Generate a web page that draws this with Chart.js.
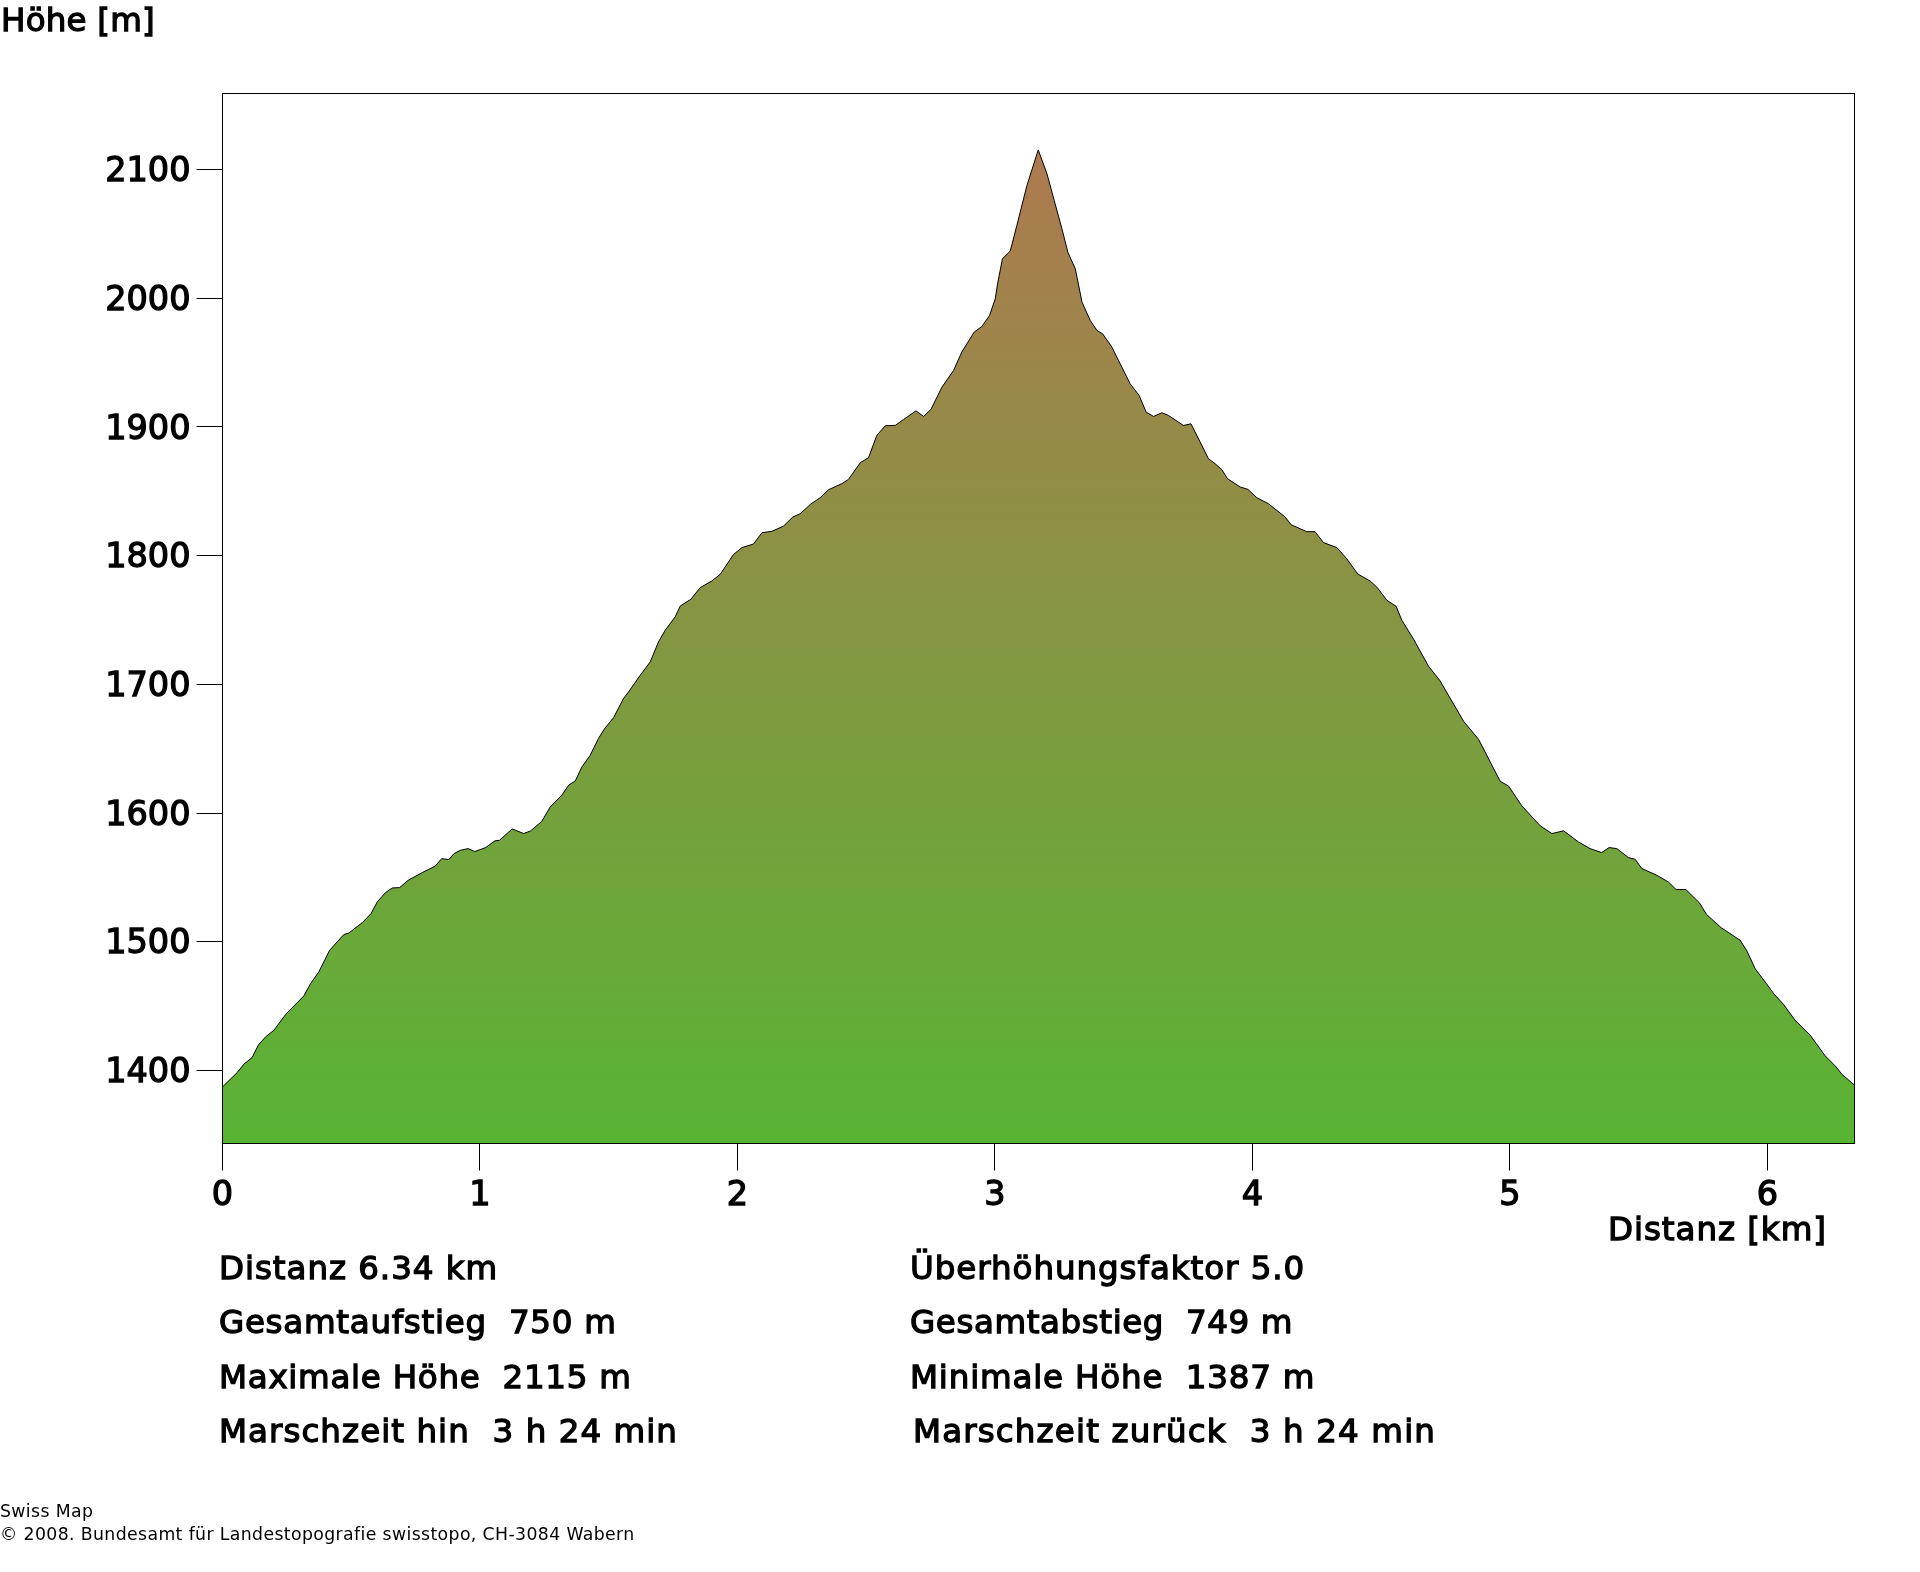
<!DOCTYPE html>
<html lang="de"><head><meta charset="utf-8">
<script src="https://cdn.jsdelivr.net/npm/chart.js@4"></script>
<style>
html,body{margin:0;padding:0;background:#fff;width:1920px;height:1572px;overflow:hidden}
canvas{position:absolute;left:0;top:0}
.t{position:absolute;white-space:pre;font-family:"DejaVu Sans";font-size:32.5px;line-height:40px;color:#000;-webkit-text-stroke:1.3px #000;letter-spacing:.95px}
.f{position:absolute;white-space:pre;font-family:"DejaVu Sans";font-size:17.3px;line-height:20px;color:#000;letter-spacing:.38px}
</style></head><body>
<canvas id="c" width="1920" height="1572"></canvas>
<div class="t" style="left:1px;top:0;letter-spacing:.2px">Höhe [m]</div>
<div class="t" style="left:1620px;top:1209px;left:1608px">Distanz [km]</div>
<div class="t" style="left:219px;top:1248px">Distanz 6.34 km</div>
<div class="t" style="left:219px;top:1302px;letter-spacing:.72px">Gesamtaufstieg  750 m</div>
<div class="t" style="left:219px;top:1357px;letter-spacing:.72px">Maximale Höhe  2115 m</div>
<div class="t" style="left:219px;top:1411px;letter-spacing:1.05px">Marschzeit hin  3 h 24 min</div>
<div class="t" style="left:910px;top:1248px">Überhöhungsfaktor 5.0</div>
<div class="t" style="left:910px;top:1302px;letter-spacing:.6px">Gesamtabstieg  749 m</div>
<div class="t" style="left:910px;top:1357px;letter-spacing:.83px">Minimale Höhe  1387 m</div>
<div class="t" style="left:913px;top:1411px;letter-spacing:1.15px">Marschzeit zurück  3 h 24 min</div>
<div class="f" style="left:0;top:1501px">Swiss Map</div>
<div class="f" style="left:0;top:1524px">© 2008. Bundesamt für Landestopografie swisstopo, CH-3084 Wabern</div>
<script>
const distanceKm = [0,0.057,0.083,0.115,0.139,0.167,0.2,0.245,0.316,0.342,0.374,0.416,0.471,0.491,0.543,0.577,0.601,0.633,0.659,0.688,0.721,0.776,0.827,0.851,0.879,0.899,0.924,0.954,0.98,1.022,1.058,1.076,1.125,1.17,1.196,1.239,
1.273,1.318,1.344,1.37,1.396,1.428,1.46,1.482,1.519,1.557,1.577,1.622,1.661,1.693,1.719,1.758,1.778,1.819,1.855,1.9,1.933,
1.985,2.017,2.062,2.095,2.134,2.179,2.215,2.244,2.283,2.321,2.354,2.405,2.431,2.477,2.509,2.541,2.574,2.613,2.645,2.693,2.723,2.751,
2.794,2.839,2.871,2.919,2.949,2.979,3.001,3.01,3.029,3.059,3.085,3.124,3.168,3.202,3.23,3.26,3.283,3.312,3.338,3.37,3.396,3.418,3.454,3.525,3.56,3.587,3.616,3.648,3.674,3.732,3.761,
3.797,3.829,3.855,3.881,3.903,3.952,3.982,4.017,4.062,4.127,4.15,4.211,4.243,4.276,4.328,4.366,4.409,4.457,4.485,4.522,4.558,
4.58,4.626,4.684,4.727,4.82,4.878,4.962,4.995,5.046,5.118,5.163,5.208,5.266,5.311,5.356,5.385,5.415,5.46,5.486,5.512,5.57,5.615,5.645,5.683,5.736,5.764,5.82,5.894,5.92,5.952,6.01,6.026,6.062,6.107,6.166,6.224,6.263,6.289,6.338];
const elevationM = [1387.3,1398.4,1404.9,1410.1,1419.7,1426.1,1431.3,1443.5,1458,1467.5,1476.6,1493.4,1505.6,1506.9,1514.9,1521.9,1531,1538.2,1541.8,1542.1,1547.8,1553.8,1558.9,1564.6,1563.9,1568.5,1571.1,1572.4,1570.1,1573.2,1578.4,1578.9,1587.7,1584.1,1586.1,1593.3,
1604.8,1613.9,1621.6,1625,1635.9,1644.9,1657.9,1665.1,1674.2,1688.9,1694.1,1707,1717.4,1732.9,1742,1752.4,1760.9,1766.1,1775.1,1780.3,1785.5,
1801,1806.2,1809,1817.8,1818.9,1823,1830,1832.6,1839.8,1845,1851.2,1855.9,1859.2,1872.2,1876.1,1893.4,1900.9,1901.2,1905.8,1912.4,1908.2,1913.5,
1930.9,1943.8,1958.1,1973.6,1978,1986.6,1999.5,2011.1,2030.6,2036.5,2056.5,2087.5,2115.2,2096.6,2075.9,2053.9,2035.7,2022.8,1996.9,1982.7,1974.9,1972.3,1962,1933.5,1924.4,1911.5,1908.1,1911,1908.9,1901.1,1902.4,
1888.2,1875.3,1871.4,1866.8,1859.8,1853.3,1851.5,1845,1840.3,1830,1824,1818.6,1818.6,1810.1,1806.2,1797.6,1785.7,1780.3,1775.1,1765.3,1760.6,
1749.8,1735,1714,1703.2,1671.3,1657.3,1624.7,1620.9,1605.6,1590,1584.1,1586.2,1577.6,1572.4,1569.3,1573.2,1572.4,1565.4,1564.1,1556.9,1551.7,1546.5,1540.6,1540.6,1530.2,1521.1,1511,1501.2,1492.9,1479.2,1463.7,1459.3,1451.5,1439.1,1427.4,1411.4,1403.6,1397.1,1388.6];
const profile = distanceKm.map((x, i) => ({x, y: elevationM[i]}));
const tickFont = {family: '"DejaVu Sans"', size: 33.5};
const framePlugin = {id:'frame', afterDatasetsDraw(c){
  const a = c.chartArea, g = c.ctx; g.save(); g.strokeStyle='#000'; g.lineWidth=1;
  g.strokeRect(Math.floor(a.left)+.5, Math.floor(a.top)+.5, Math.floor(a.right)-Math.floor(a.left), Math.floor(a.bottom)-Math.floor(a.top));
  g.restore();
}};
new Chart(document.getElementById('c'), {
  type:'line',
  data:{datasets:[{data:profile, borderColor:'#000', borderWidth:1, pointRadius:0, tension:0, fill:'origin',
    backgroundColor(ctx){
      const c = ctx.chart; if(!c.chartArea) return '#6a3';
      const s = c.scales.y, g = c.ctx.createLinearGradient(0, s.getPixelForValue(2115), 0, c.chartArea.bottom);
      g.addColorStop(0,'#AE7A50'); g.addColorStop(1,'#58B433'); return g;
    }}]},
  options:{responsive:false, animation:false, devicePixelRatio:1,
    layout:{padding:{left:0,right:65.5,top:93.5,bottom:0}},
    plugins:{legend:{display:false},tooltip:{enabled:false},title:{display:false}},
    scales:{
      x:{type:'linear',min:0,max:6.338,
        afterFit(s){s.height=1572-1143.5; s.paddingLeft=0; s.paddingRight=0;},
        grid:{drawOnChartArea:false,drawTicks:true,tickLength:27,color:'#000',lineWidth:1},
        border:{display:false},
        ticks:{stepSize:1,includeBounds:false,maxRotation:0,padding:6,color:'#000',font:tickFont,textStrokeColor:'#000',textStrokeWidth:1.3,callback:v=>String(v)}},
      y:{type:'linear',min:1343.3,max:2159,
        afterFit(s){s.width=222.5; s.paddingTop=0; s.paddingBottom=0;},
        grid:{drawOnChartArea:false,drawTicks:true,tickLength:26,color:'#000',lineWidth:1},
        border:{display:false},
        ticks:{stepSize:100,includeBounds:false,padding:6,labelOffset:3,color:'#000',font:tickFont,textStrokeColor:'#000',textStrokeWidth:1.3,callback:v=>String(v)}}
    }},
  plugins:[framePlugin]
});
</script></body></html>
